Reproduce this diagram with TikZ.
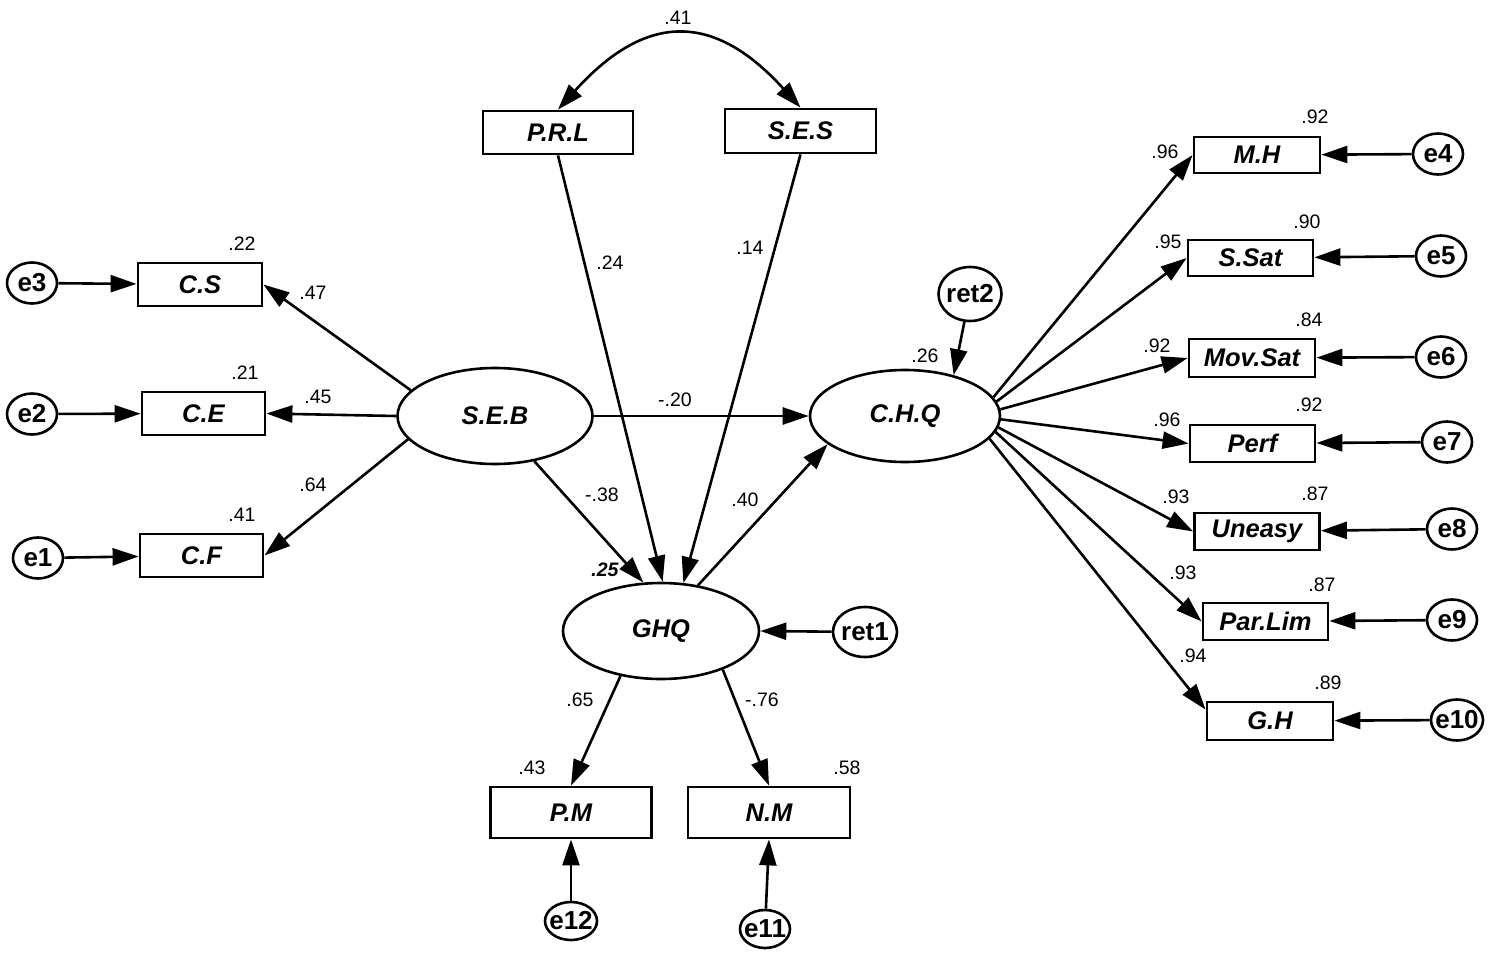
\documentclass[tikz,border=0pt]{standalone}
\usepackage{fontspec}
\setmainfont{Liberation Sans}
\usetikzlibrary{shapes.geometric,arrows.meta}
\begin{document}
\begin{tikzpicture}[x=1pt,y=-1pt,
  arr/.style={line width=2.6pt,-{Triangle[length=26pt,width=17pt]}},
  darr/.style={line width=2.6pt,{Triangle[length=26pt,width=17pt]}-{Triangle[length=26pt,width=17pt]}},
  obs/.style={draw,line width=2.8pt,rectangle,inner sep=0pt,font=\fontsize{25.5}{30}\selectfont\bfseries\itshape},
  lat/.style={draw,line width=2.6pt,ellipse,inner sep=0pt,font=\fontsize{25.5}{30}\selectfont\bfseries\itshape},
  err/.style={draw,line width=2.6pt,ellipse,inner sep=-5pt,minimum width=50pt,minimum height=41pt,font=\fontsize{26}{30}\selectfont\bfseries},
  num/.style={font=\fontsize{19.5}{23}\selectfont,inner sep=0pt}
]
\fill[white] (0,0) rectangle (1500,958);

% observed variables
\node[obs,minimum width=124pt,minimum height=43pt] (cs) at (200,284.5) {C.S};
\node[obs,minimum width=123pt,minimum height=43pt] (ce) at (203.5,413.5) {C.E};
\node[obs,minimum width=123pt,minimum height=43pt] (cf) at (201.5,555.5) {C.F};
\node[obs,minimum width=150pt,minimum height=43pt] (prl) at (558,132.5) {P.R.L};
\node[obs,minimum width=151pt,minimum height=44pt] (ses) at (800.5,131) {S.E.S};
\node[obs,minimum width=161pt,minimum height=51pt] (pm) at (571,812.5) {P.M};
\node[obs,minimum width=162pt,minimum height=51pt] (nm) at (769,812.5) {N.M};
\node[obs,minimum width=126pt,minimum height=36pt] (mh) at (1257,155) {M.H};
\node[obs,minimum width=125pt,minimum height=36pt] (ssat) at (1250.5,258) {S.Sat};
\node[obs,minimum width=126pt,minimum height=38pt] (movsat) at (1252,358) {Mov.Sat};
\node[obs,minimum width=125pt,minimum height=37pt] (perf) at (1252.5,443.5) {Perf};
\node[obs,minimum width=125pt,minimum height=37pt] (uneasy) at (1257,531.5) {Uneasy};
\node[obs,minimum width=125pt,minimum height=37pt] (parlim) at (1265.5,621.5) {Par.Lim};
\node[obs,minimum width=126pt,minimum height=38pt] (gh) at (1270,721) {G.H};

% latent variables
\node[lat,minimum width=195pt,minimum height=96pt] (seb) at (495,416) {S.E.B};
\node[lat,minimum width=190pt,minimum height=92pt] (chq) at (905,416) {C.H.Q};
\node[lat,minimum width=196pt,minimum height=96pt] (ghq) at (661,631) {GHQ};

% error terms
\node[err] (e3) at (32,283) {e3};
\node[err] (e2) at (32,414) {e2};
\node[err] (e1) at (38,558) {e1};
\node[err] (e4) at (1438,154) {e4};
\node[err] (e5) at (1441,256) {e5};
\node[err] (e6) at (1441,357) {e6};
\node[err] (e7) at (1447,442) {e7};
\node[err] (e8) at (1452,529) {e8};
\node[err] (e9) at (1452,620) {e9};
\node[err,minimum width=52pt] (e10) at (1457,720) {e10};
\node[err,minimum width=64pt,minimum height=50pt] (ret1) at (865,632) {ret1};
\node[err,minimum width=63pt,minimum height=54pt] (ret2) at (970,294) {ret2};
\node[err,minimum width=52pt,minimum height=38pt] (e12) at (571,921) {e12};
\node[err,minimum width=50pt,minimum height=38pt] (e11) at (765,929) {e11};

% connectors left
\draw[arr] (seb.163) -- (cs.east);
\draw[arr] (seb.west) -- (ce.east);
\draw[arr] (seb.195) -- (cf.east);
\draw[arr] (e3) -- (cs);
\draw[arr] (e2) -- (ce);
\draw[arr] (e1) -- (cf);

% top
\draw[darr] (prl.north) .. controls (646,12) and (714,12) .. (ses.north);
\draw[arr] (prl.south) -- (ghq.88);
\draw[arr] (ses.south) -- (ghq.65);

% middle
\draw[arr] (seb.east) -- (chq.west);
\draw[arr] (seb.311) -- (ghq.110);
\draw[arr] (ghq.51) -- (chq.200);
\draw[arr] (ret1) -- (ghq.east);
\draw[arr] (ret2) -- (chq.40);
\draw[arr] (ghq.228) -- (pm.north);
\draw[arr] (ghq.328) -- (nm.north);
\draw[arr] (e12) -- (pm.south);
\draw[arr] (e11) -- (nm.south);

% right
\draw[arr] (chq.12) -- (mh.west);
\draw[arr] (chq.9) -- (ssat.west);
\draw[arr] (chq.4) -- (movsat.west);
\draw[arr] (chq.-2) -- (perf.west);
\draw[arr] (chq.-7) -- (uneasy.west);
\draw[arr] (chq.-10) -- (parlim.west);
\draw[arr] (chq.-15) -- (gh.170);
\draw[arr] (e4) -- (mh);
\draw[arr] (e5) -- (ssat);
\draw[arr] (e6) -- (movsat);
\draw[arr] (e7) -- (perf);
\draw[arr] (e8) -- (uneasy);
\draw[arr] (e9) -- (parlim);
\draw[arr] (e10) -- (gh);

% numbers
\node[num] (n1) at (242,244) {.22};
\node[num] (n2) at (245,373) {.21};
\node[num] (n3) at (242,515) {.41};
\node[num] (n4) at (313,293) {.47};
\node[num] (n5) at (318,397) {.45};
\node[num] (n6) at (313,485) {.64};
\node[num] (n7) at (678,18) {.41};
\node[num] (n8) at (610,263) {.24};
\node[num] (n9) at (750,248) {.14};
\node[num] (n10) at (675,400) {-.20};
\node[num] (n11) at (602,495) {-.38};
\node[num] (n12) at (745,500) {.40};
\node[num,font=\fontsize{19.5}{23}\selectfont\bfseries\itshape] (n13) at (605,570) {.25};
\node[num] (n14) at (580,700) {.65};
\node[num] (n15) at (762,700) {-.76};
\node[num] (n16) at (532,768) {.43};
\node[num] (n17) at (847,768) {.58};
\node[num] (n18) at (925,356) {.26};
\node[num] (n19) at (1315,117) {.92};
\node[num] (n20) at (1165,152) {.96};
\node[num] (n21) at (1307,222) {.90};
\node[num] (n22) at (1168,242) {.95};
\node[num] (n23) at (1309,320) {.84};
\node[num] (n24) at (1157,346) {.92};
\node[num] (n25) at (1309,405) {.92};
\node[num] (n26) at (1167,420) {.96};
\node[num] (n27) at (1176,497) {.93};
\node[num] (n28) at (1315,494) {.87};
\node[num] (n29) at (1183,573) {.93};
\node[num] (n30) at (1322,585) {.87};
\node[num] (n31) at (1193,656) {.94};
\node[num] (n32) at (1328,683) {.89};
\end{tikzpicture}
\end{document}
